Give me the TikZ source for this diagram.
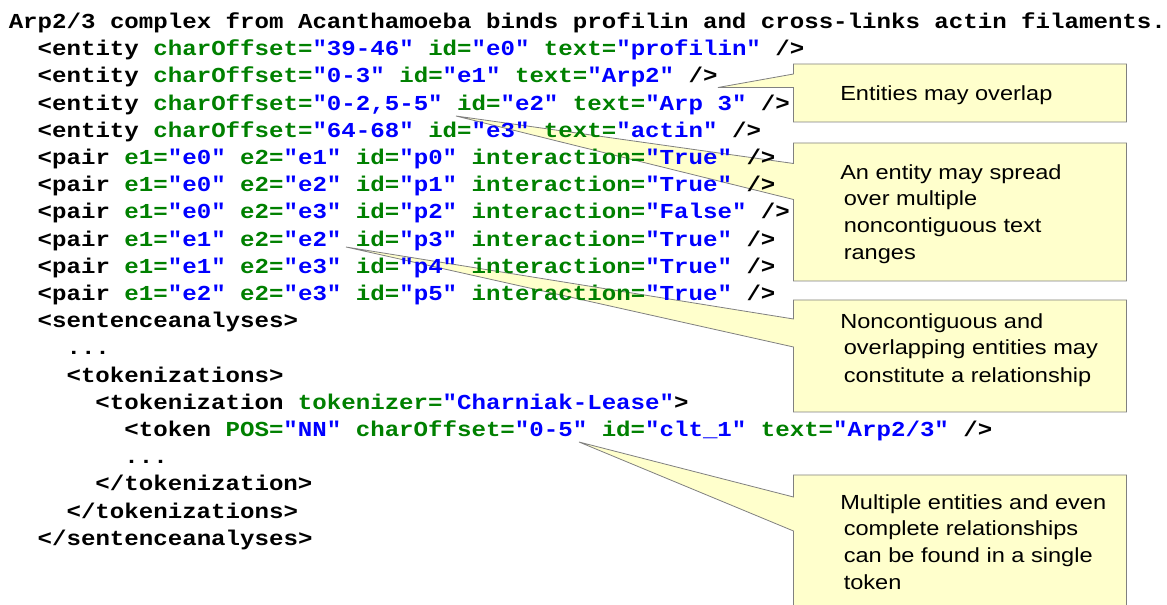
\documentclass[tikz,border=0pt]{standalone}
\usepackage{fontspec}
\usepackage{tikz}
\usepackage{xcolor}

\newfontfamily\codefont[FakeStretch=1.13]{Liberation Mono}
\newfontfamily\notefont[FakeStretch=1.155]{Liberation Sans}

\definecolor{attrgreen}{RGB}{0,128,0}
\definecolor{valblue}{RGB}{0,0,255}
\definecolor{notefill}{RGB}{255,255,204}
\definecolor{noteline}{RGB}{128,128,128}

\newcommand{\xattr}[1]{\textcolor{attrgreen}{#1}}
\newcommand{\xval}[1]{\textcolor{valblue}{#1}}

\begin{document}
\begin{tikzpicture}[x=0.75pt,y=-0.75pt,
  code/.style={anchor=base west,inner sep=0pt,font=\codefont\bfseries\fontsize{16pt}{19pt}\selectfont},
  note/.style={anchor=base west,inner sep=0pt,font=\notefont\fontsize{15.3pt}{20pt}\selectfont},
  callout/.style={fill=notefill,draw=noteline,line width=0.6pt}]
\clip (0,0) rectangle (1167,605);
\fill[white] (0,0) rectangle (1167,605);

% callouts
\coordinate (tip1) at (718,87.5);
\coordinate (tip2) at (456,116);
\coordinate (tip3) at (346,247);
\coordinate (tip4) at (579,442);

\filldraw[callout] (793.5,64) -- (1126.5,64) -- (1126.5,122) -- (793.5,122) -- (793.5,87.5) -- (tip1) -- (793.5,74) -- cycle;
\filldraw[callout] (793.5,143) -- (1126.5,143) -- (1126.5,281) -- (793.5,281) -- (793.5,199.5) -- (tip2) -- (793.5,163.5) -- cycle;
\filldraw[callout] (793.5,300) -- (1126.5,300) -- (1126.5,412) -- (793.5,412) -- (793.5,347) -- (tip3) -- (793.5,319) -- cycle;
\filldraw[callout] (793.5,475) -- (1126.5,475) -- (1126.5,620) -- (793.5,620) -- (793.5,531) -- (tip4) -- (793.5,497) -- cycle;

\node[note] (ovl) at (840,100.7) {Entities may overlap};

\node[note] (spr1) at (840,179.3) {An entity may spread};
\node[note] (spr2) at (843.5,206) {over multiple};
\node[note] (spr3) at (843.5,232.7) {noncontiguous text};
\node[note] (spr4) at (843.5,259.3) {ranges};

\node[note] (rel1) at (840,328.3) {Noncontiguous and};
\node[note] (rel2) at (843.5,355) {overlapping entities may};
\node[note] (rel3) at (843.5,382.3) {constitute a relationship};

\node[note] (sng1) at (840,509.3) {Multiple entities and even};
\node[note] (sng2) at (843.5,536) {complete relationships};
\node[note] (sng3) at (843.5,562.7) {can be found in a single};
\node[note] (sng4) at (843.5,589.3) {token};

% xml lines
\node[code] (sent) at (8.5,28.5) {Arp2/3 complex from Acanthamoeba binds profilin and cross-links actin filaments.};

\node[code] (ent0) at (37.4,55.7) {<entity \xattr{charOffset=}\xval{"39-46"} \xattr{id=}\xval{"e0"} \xattr{text=}\xval{"profilin"} />};
\node[code] (ent1) at (37.4,82.9) {<entity \xattr{charOffset=}\xval{"0-3"} \xattr{id=}\xval{"e1"} \xattr{text=}\xval{"Arp2"} />};
\node[code] (ent2) at (37.4,110.1) {<entity \xattr{charOffset=}\xval{"0-2,5-5"} \xattr{id=}\xval{"e2"} \xattr{text=}\xval{"Arp 3"} />};
\node[code] (ent3) at (37.4,137.3) {<entity \xattr{charOffset=}\xval{"64-68"} \xattr{id=}\xval{"e3"} \xattr{text=}\xval{"actin"} />};

\node[code] (pair0) at (37.4,164.5) {<pair \xattr{e1=}\xval{"e0"} \xattr{e2=}\xval{"e1"} \xattr{id=}\xval{"p0"} \xattr{interaction=}\xval{"True"} />};
\node[code] (pair1) at (37.4,191.7) {<pair \xattr{e1=}\xval{"e0"} \xattr{e2=}\xval{"e2"} \xattr{id=}\xval{"p1"} \xattr{interaction=}\xval{"True"} />};
\node[code] (pair2) at (37.4,218.9) {<pair \xattr{e1=}\xval{"e0"} \xattr{e2=}\xval{"e3"} \xattr{id=}\xval{"p2"} \xattr{interaction=}\xval{"False"} />};
\node[code] (pair3) at (37.4,246.1) {<pair \xattr{e1=}\xval{"e1"} \xattr{e2=}\xval{"e2"} \xattr{id=}\xval{"p3"} \xattr{interaction=}\xval{"True"} />};
\node[code] (pair4) at (37.4,273.3) {<pair \xattr{e1=}\xval{"e1"} \xattr{e2=}\xval{"e3"} \xattr{id=}\xval{"p4"} \xattr{interaction=}\xval{"True"} />};
\node[code] (pair5) at (37.4,300.5) {<pair \xattr{e1=}\xval{"e2"} \xattr{e2=}\xval{"e3"} \xattr{id=}\xval{"p5"} \xattr{interaction=}\xval{"True"} />};

\node[code] (sa) at (37.4,327.7) {<sentenceanalyses>};
\node[code] (dots1) at (66.3,354.9) {...};
\node[code] (toks) at (66.3,382.1) {<tokenizations>};
\node[code] (tok) at (95.2,409.3) {<tokenization \xattr{tokenizer=}\xval{"Charniak-Lease"}>};
\node[code] (token) at (124.1,436.5) {<token \xattr{POS=}\xval{"NN"} \xattr{charOffset=}\xval{"0-5"} \xattr{id=}\xval{"clt\_1"} \xattr{text=}\xval{"Arp2/3"} />};
\node[code] (dots2) at (124.1,463.7) {...};
\node[code] (tokend) at (95.2,490.9) {</tokenization>};
\node[code] (toksend) at (66.3,518.1) {</tokenizations>};
\node[code] (saend) at (37.4,545.3) {</sentenceanalyses>};

\end{tikzpicture}
\end{document}
